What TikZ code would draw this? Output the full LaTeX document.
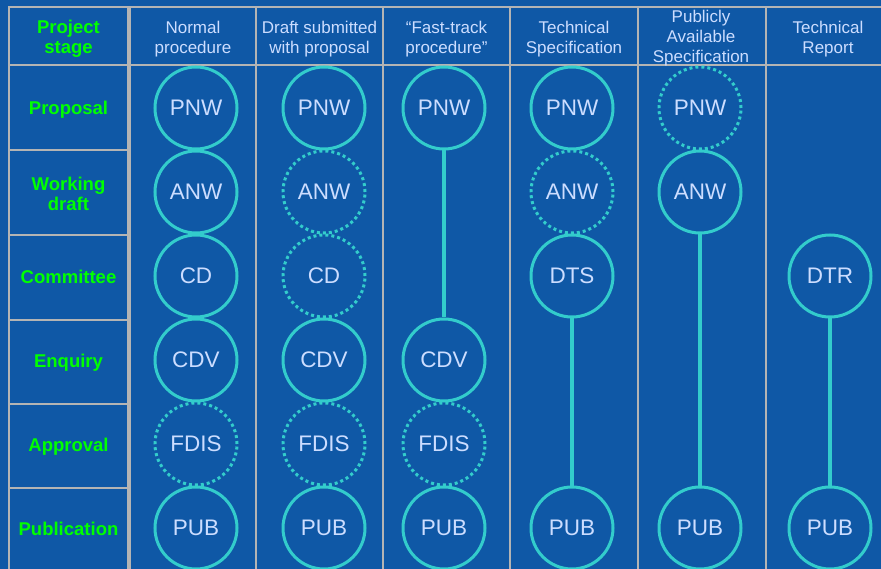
\documentclass[tikz,border=0pt]{standalone}
\usepackage{fontspec}
\setmainfont{Liberation Sans}
\usetikzlibrary{positioning}

\definecolor{slideblue}{HTML}{0F58A6}
\definecolor{ringcol}{HTML}{33CCCC}
\definecolor{labelcol}{HTML}{CCDDFF}
\definecolor{stagegreen}{HTML}{00FF00}
\definecolor{gridcol}{HTML}{B4B4B4}

\tikzset{
	stage/.style={circle, draw=ringcol, line width=3pt, minimum size=82pt, inner sep=0pt,
		text=labelcol, font=\fontsize{22.5}{26}\selectfont},
	planned/.style={stage, dash pattern=on 3pt off 3pt},
	link/.style={draw=ringcol, line width=3.5pt},
	cell/.style={draw=gridcol, line width=1.5pt},
	head/.style={text=labelcol, font=\fontsize{17}{20}\selectfont, align=center},
	rowlab/.style={text=stagegreen, font=\bfseries\fontsize{18.5}{20}\selectfont, align=center},
	oneline/.style={rowlab, text height=13.3pt, text depth=0pt}
}

\begin{document}
\begin{tikzpicture}[x=1pt,y=-1pt]
	\def\ca{196}	%column centres of the circles
	\def\cb{324}
	\def\cc{444}
	\def\cd{572}
	\def\ce{700}
	\def\cf{830}
	\clip (0,0) rectangle (881,569);
	\fill[slideblue] (0,0) rectangle (881,569);			%slide background

	\foreach \t/\b in {7/65,65/150,150/235,235/320,320/404,404/488,488/590}
		\draw[cell] (9,\t) rectangle (128,\b);			%stage cells
	\foreach \l/\r in {130/256,256/383,383/510,510/638,638/766,766/900}{
		\draw[cell] (\l,7) rectangle (\r,65);			%heading cell
		\draw[cell] (\l,65) rectangle (\r,590);			%body of the column
	}

	% stage names
	\node[rowlab] (st-head) at (68.5,39) {Project\\stage};
	\node[oneline] (st-prop) at (68.5,108) {Proposal};
	\node[rowlab] (st-wd) at (68.5,193.5) {Working\\draft};
	\node[oneline] (st-com) at (68.5,277) {Committee};
	\node[oneline] (st-enq) at (68.5,361) {Enquiry};
	\node[oneline] (st-app) at (68.5,445) {Approval};
	\node[oneline] (st-pub) at (68.5,529) {Publication};

	% procedure headings
	\node[head] (pr-nor) at (193,39) {Normal\\procedure};
	\node[head] (pr-dra) at (319.5,39) {Draft submitted\\with proposal};
	\node[head] (pr-fast) at (446.5,39) {“Fast-track\\procedure”};
	\node[head] (pr-ts) at (574,39) {Technical\\Specification};
	\node[head] (pr-pas) at (701,38.5) {Publicly\\Available\\Specification};
	\node[head] (pr-tr) at (828,39) {Technical\\Report};

	% normal procedure
	\node[stage] (nor-pnw) at (\ca,108) {PNW};
	\node[stage] (nor-anw) at (\ca,192) {ANW};
	\node[stage] (nor-cd) at (\ca,276) {CD};
	\node[stage] (nor-cdv) at (\ca,360) {CDV};
	\node[planned] (nor-fdis) at (\ca,444) {FDIS};
	\node[stage] (nor-pub) at (\ca,528) {PUB};

	% draft submitted with proposal
	\node[stage] (dra-pnw) at (\cb,108) {PNW};
	\node[planned] (dra-anw) at (\cb,192) {ANW};
	\node[planned] (dra-cd) at (\cb,276) {CD};
	\node[stage] (dra-cdv) at (\cb,360) {CDV};
	\node[planned] (dra-fdis) at (\cb,444) {FDIS};
	\node[stage] (dra-pub) at (\cb,528) {PUB};

	% fast-track
	\node[stage] (fast-pnw) at (\cc,108) {PNW};
	\node[stage] (fast-cdv) at (\cc,360) {CDV};
	\node[planned] (fast-fdis) at (\cc,444) {FDIS};
	\node[stage] (fast-pub) at (\cc,528) {PUB};
	\draw[link] (fast-pnw) -- (fast-cdv);

	% technical specification
	\node[stage] (ts-pnw) at (\cd,108) {PNW};
	\node[planned] (ts-anw) at (\cd,192) {ANW};
	\node[stage] (ts-dts) at (\cd,276) {DTS};
	\node[stage] (ts-pub) at (\cd,528) {PUB};
	\draw[link] (ts-dts) -- (ts-pub);

	% publicly available specification
	\node[planned] (pas-pnw) at (\ce,108) {PNW};
	\node[stage] (pas-anw) at (\ce,192) {ANW};
	\node[stage] (pas-pub) at (\ce,528) {PUB};
	\draw[link] (pas-anw) -- (pas-pub);

	% technical report
	\node[stage] (tr-dtr) at (\cf,276) {DTR};
	\node[stage] (tr-pub) at (\cf,528) {PUB};
	\draw[link] (tr-dtr) -- (tr-pub);
\end{tikzpicture}
\end{document}
